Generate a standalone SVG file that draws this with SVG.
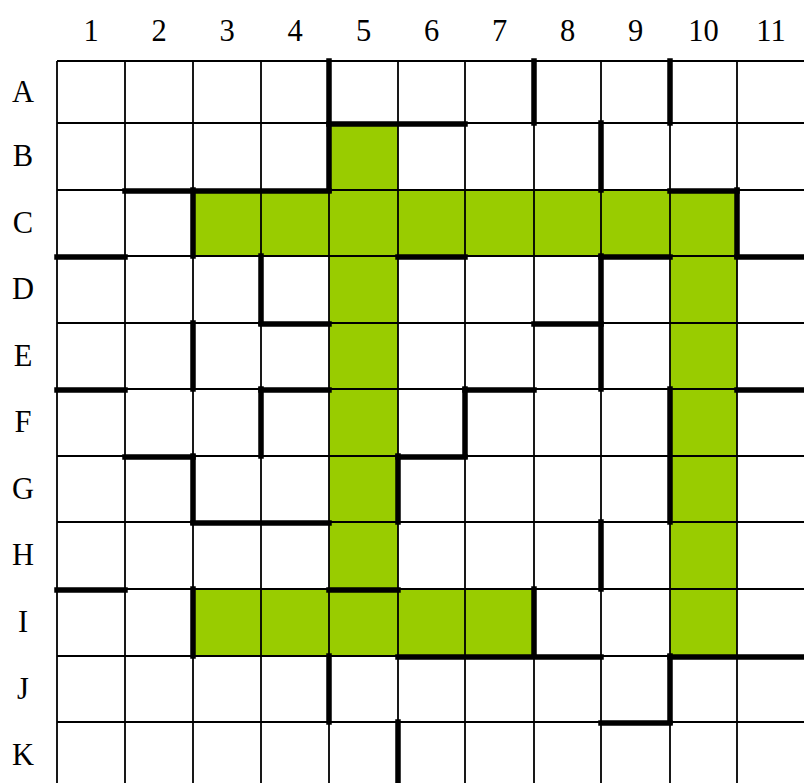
<svg xmlns="http://www.w3.org/2000/svg" width="804" height="783" viewBox="0 0 804 783">
<style>
.lbl{font-family:"Liberation Serif","Times New Roman",serif;font-size:30.5px;fill:#000;text-anchor:middle}
.cell{fill:#99CC00}
.thin{stroke:#000;stroke-width:1.8;fill:none}
.wall{stroke:#000;stroke-width:5.5;fill:none;stroke-linecap:square}
</style>
<rect x="0" y="0" width="804" height="783" fill="#fff"/>
<g id="col-labels">
<text class="lbl" x="91" y="41">1</text>
<text class="lbl" x="159" y="41">2</text>
<text class="lbl" x="227" y="41">3</text>
<text class="lbl" x="295" y="41">4</text>
<text class="lbl" x="363.5" y="41">5</text>
<text class="lbl" x="431.5" y="41">6</text>
<text class="lbl" x="499.5" y="41">7</text>
<text class="lbl" x="567.5" y="41">8</text>
<text class="lbl" x="635.5" y="41">9</text>
<text class="lbl" x="703.5" y="41">10</text>
<text class="lbl" x="771" y="41">11</text>
</g>
<g id="row-labels">
<text class="lbl" x="23" y="102">A</text>
<text class="lbl" x="23" y="166">B</text>
<text class="lbl" x="23" y="233">C</text>
<text class="lbl" x="23" y="299">D</text>
<text class="lbl" x="23" y="366">E</text>
<text class="lbl" x="23" y="432">F</text>
<text class="lbl" x="23" y="499">G</text>
<text class="lbl" x="23" y="565">H</text>
<text class="lbl" x="23" y="632">I</text>
<text class="lbl" x="23" y="699">J</text>
<text class="lbl" x="23" y="765">K</text>
</g>
<g id="path-cells">
<rect class="cell" x="329" y="123" width="69" height="67"/>
<rect class="cell" x="193" y="190" width="544" height="66"/>
<rect class="cell" x="329" y="256" width="69" height="333"/>
<rect class="cell" x="670" y="256" width="67" height="400"/>
<rect class="cell" x="193" y="589" width="341" height="67"/>
</g>
<g id="grid">
<path class="thin" d="M57 61V789M125 61V789M193 61V789M261 61V789M329 61V789M398 61V789M465 61V789M534 61V789M601 61V789M670 61V789M737 61V789M805 61V789"/>
<path class="thin" d="M57 61H805M57 123H805M57 190H805M57 256H805M57 323H805M57 389H805M57 456H805M57 522H805M57 589H805M57 656H805M57 722H805M57 789H805"/>
</g>
<g id="walls">
<path class="wall" d="M329 61V190M534 61V123M670 61V123M601 123V190M193 190V256M737 190V256M261 256V323M601 256V389M193 323V389M261 389V456M465 389V456M670 389V522M193 456V522M398 456V522M601 522V589M193 589V656M534 589V656M329 656V722M670 656V722M398 722V789"/>
<path class="wall" d="M329 124H465M125 191H329M670 191H737M57 257H125M398 257H465M601 257H670M737 257H805M261 324H329M534 324H601M57 390H125M261 390H329M465 390H534M737 390H805M125 457H193M398 457H465M193 523H329M57 590H125M329 590H398M398 657H601M670 657H805M601 723H670"/>
</g>
</svg>
